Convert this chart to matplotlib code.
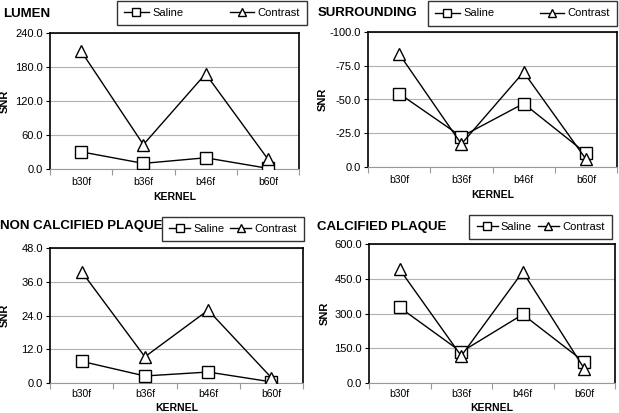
import numpy as np
import matplotlib
matplotlib.use('Agg')
import matplotlib.pyplot as plt

plt.rcParams['font.family'] = ['Liberation Sans', 'DejaVu Sans']

# data
kernels = ['b30f', 'b36f', 'b46f', 'b60f']
lumen_saline = [30.3, 9.9, 19.8, 1.2]
lumen_contrast = [208.0, 43.0, 168.0, 17.5]
surr_saline = [-54.4, -22.5, -47.0, -10.3]
surr_contrast = [-83.8, -17.0, -70.3, -5.9]
noncalc_saline = [7.7, 2.5, 3.9, 0.4]
noncalc_contrast = [39.6, 9.3, 25.9, 1.9]
calc_saline = [326.0, 134.0, 296.0, 91.0]
calc_contrast = [490.0, 117.0, 480.0, 62.0]

W, H = 619, 413
fig = plt.figure(figsize=(W / 100, H / 100), dpi=100)


def px(x0, y0, x1, y1):
    # pixel box -> figure fraction rect
    return [x0 / W, 1 - y1 / H, (x1 - x0) / W, (y1 - y0) / H]


def panel(rect, saline, contrast, yticks, title, title_xy, leg_box, tick_pad, kern_y, wide):
    ax = fig.add_axes(px(*rect))
    xs = np.arange(len(kernels)) + 0.5
    ax.plot(xs, saline, color='black', lw=1, marker='s', ms=8.5,
            mfc='white', mec='black', mew=1, label='Saline', zorder=3)
    ax.plot(xs, contrast, color='black', lw=1, marker='^', ms=9,
            mfc='white', mec='black', mew=1, label='Contrast', zorder=3)
    ax.set_xlim(0, len(kernels))
    # gray ticks between kernels, labels centred on each kernel
    ax.set_xticks(np.arange(len(kernels) + 1))
    ax.set_xticklabels([])
    ax.set_xticks(xs, minor=True)
    ax.set_xticklabels(kernels, minor=True)
    ax.tick_params(axis='x', which='major', length=4, color='#999999', direction='out')
    ax.tick_params(axis='x', which='minor', length=0, labelsize=7.5, pad=tick_pad)
    ax.set_ylim(yticks[0], yticks[-1])
    ax.set_yticks(yticks)
    ax.set_yticklabels(['%.1f' % v for v in yticks])
    ax.tick_params(axis='y', length=3, labelsize=8, pad=2)
    ax.grid(axis='y', color='#b0b0b0', lw=0.8)
    ax.set_axisbelow(True)
    for s in ['left', 'right', 'top']:
        ax.spines[s].set_linewidth(1.2)
    ax.spines['bottom'].set_color('#999999')
    ax.spines['bottom'].set_linewidth(0.8)
    ax.set_xlabel('KERNEL', fontsize=7.5, fontweight='bold')
    ax.xaxis.set_label_coords(0.5, kern_y)
    ax.set_ylabel('SNR', fontsize=8, fontweight='bold')
    ax.yaxis.set_label_coords(-0.16, 0.5)
    fig.text(title_xy[0] / W, 1 - title_xy[1] / H, title, fontsize=9.5,
             fontweight='bold', va='center', ha='left')
    x0, y0, x1, y1 = leg_box
    leg = ax.legend(loc='center', ncol=2, frameon=True, fancybox=False,
                    bbox_to_anchor=(x0 / W, 1 - y1 / H, (x1 - x0) / W, (y1 - y0) / H),
                    bbox_transform=fig.transFigure, fontsize=8,
                    handlelength=2.2 if wide else 1.9,
                    handletextpad=0.3, columnspacing=0.5,
                    borderpad=0.65, borderaxespad=0, markerscale=0.65,
                    mode='expand' if wide else None)
    leg.get_frame().set_edgecolor('black')
    leg.get_frame().set_linewidth(1.0)
    return ax


panel((50, 33, 299, 169), lumen_saline, lumen_contrast, [0, 60, 120, 180, 240],
      'LUMEN', (3, 14), (117, -1, 307, 27), 6, -0.17, True)
panel((368, 32, 617, 167), surr_saline, surr_contrast, [0, -25, -50, -75, -100],
      'SURROUNDING', (318, 13), (428, -1, 617, 28), 6, -0.17, True)
panel((50, 248, 303, 383), noncalc_saline, noncalc_contrast, [0, 12, 24, 36, 48],
      'NON CALCIFIED PLAQUE', (0, 226), (162, 214, 304, 244), 4, -0.145, False)
panel((369, 244, 615, 383), calc_saline, calc_contrast, [0, 150, 300, 450, 600],
      'CALCIFIED PLAQUE', (317, 227), (464, 214, 617, 240), 4, -0.145, False)

fig.savefig('out.png', dpi=100)
